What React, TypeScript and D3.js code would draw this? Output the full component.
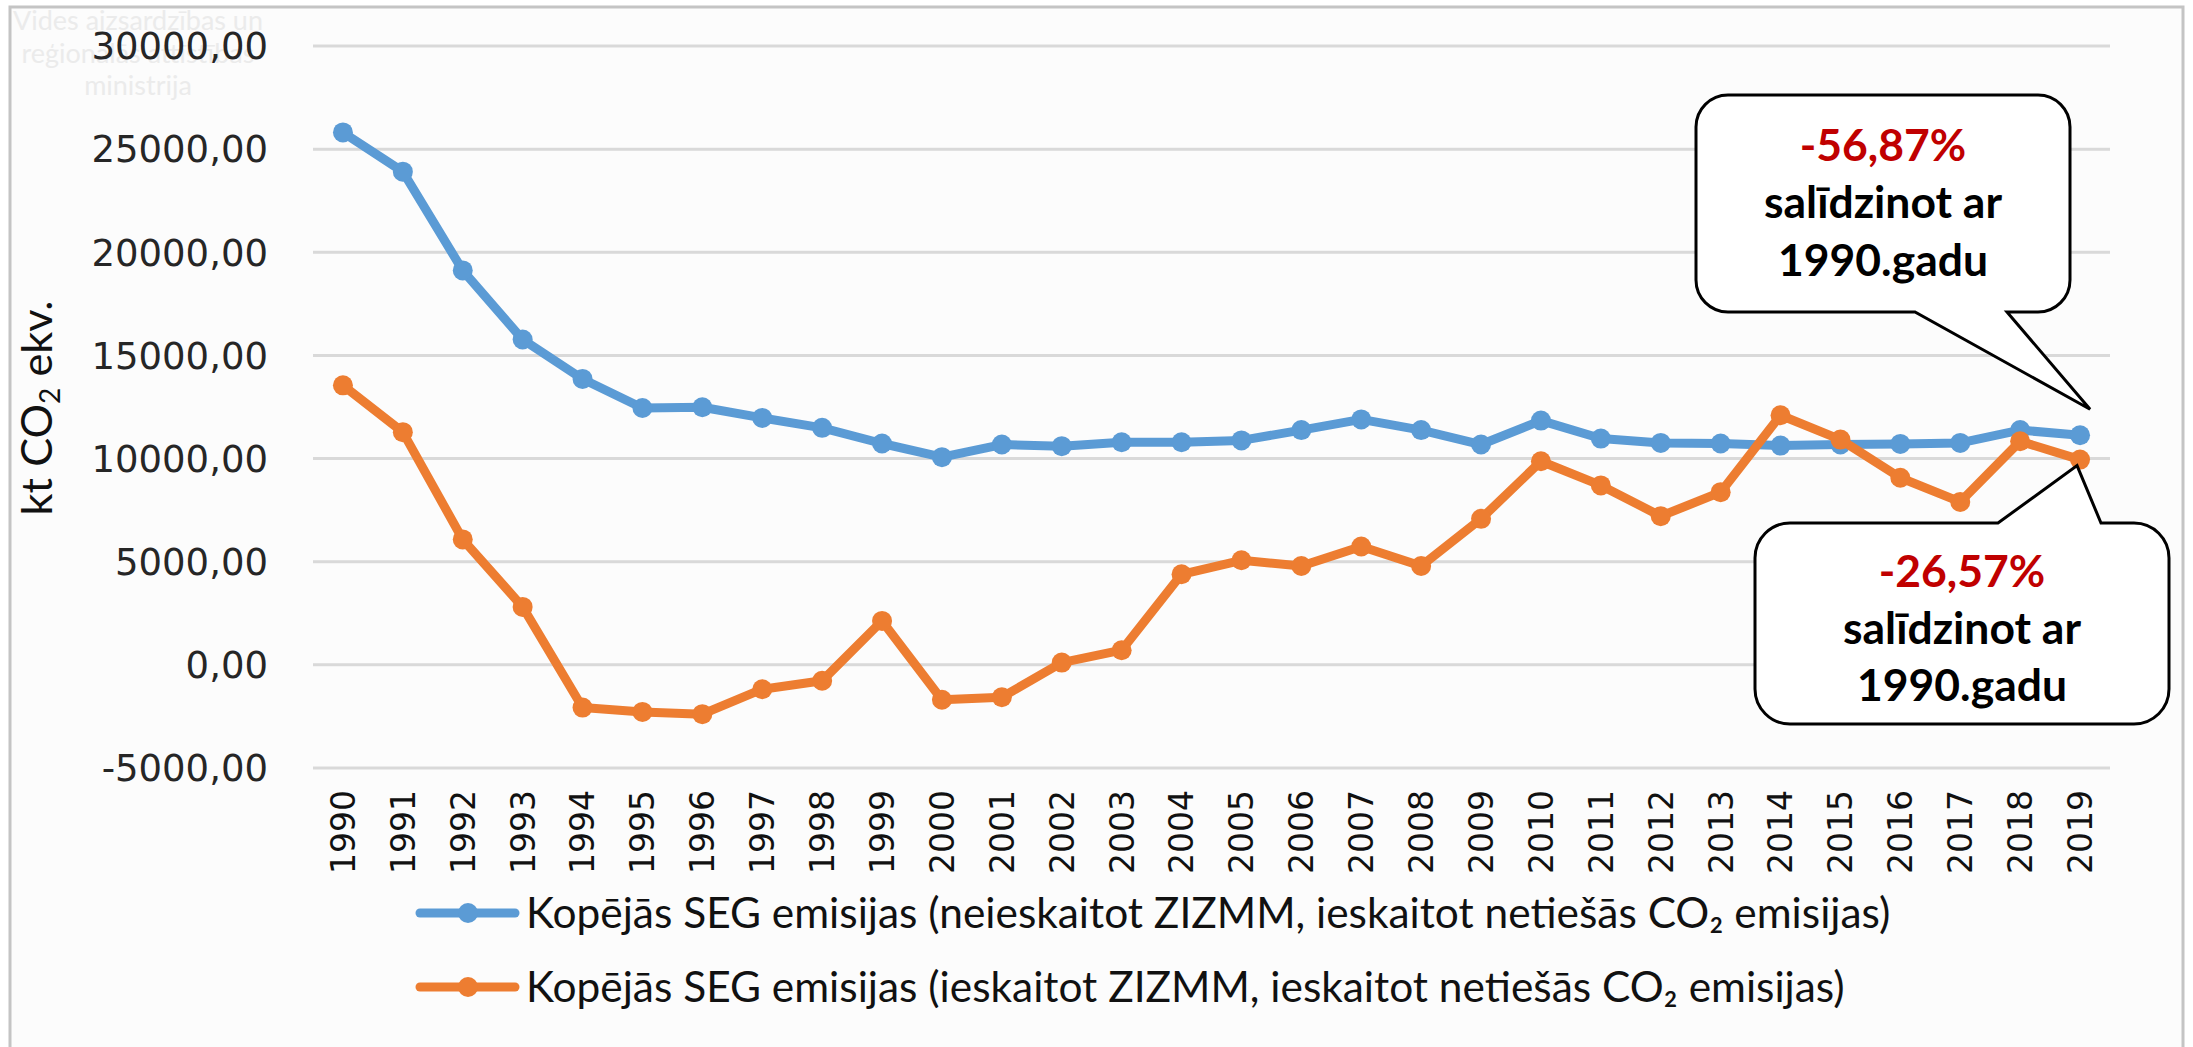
import React, { useEffect, useRef } from "react";
import * as d3 from "d3";

const years = ["1990","1991","1992","1993","1994","1995","1996","1997","1998","1999","2000","2001","2002","2003","2004","2005","2006","2007","2008","2009","2010","2011","2012","2013","2014","2015","2016","2017","2018","2019"];
const totalExclLULUCF = [25810,23910,19120,15770,13860,12450,12490,11970,11490,10730,10070,10680,10600,10790,10790,10880,11380,11900,11380,10680,11840,10970,10760,10730,10630,10680,10710,10760,11380,11130];
const totalInclLULUCF = [13550,11280,6080,2810,-2070,-2280,-2390,-1180,-770,2130,-1690,-1570,110,710,4390,5070,4790,5740,4790,7080,9870,8700,7210,8370,12100,10920,9070,7900,10840,9950];
const yTicks = [-5000,0,5000,10000,15000,20000,25000,30000];
const seriesNames = [
  "Kopējās SEG emisijas (neieskaitot ZIZMM, ieskaitot netiešās CO₂ emisijas)",
  "Kopējās SEG emisijas (ieskaitot ZIZMM, ieskaitot netiešās CO₂ emisijas)",
];
const seriesColors = ["#5b9bd5", "#ed7d31"];
const calloutPercents = ["-56,87%", "-26,57%"];
const calloutLines = ["salīdzinot ar", "1990.gadu"];
const watermarkLines = ["Vides aizsardzības un", "reģionālās attīstības", "ministrija"];

const W = 2193, H = 1047;
const M = { left: 313, right: 2110, top: 46, bottom: 768 };

function fit(sel: any, target: number) {
  const node = sel.node() as SVGTextElement;
  const w = node.getComputedTextLength();
  const fs = parseFloat(sel.attr("font-size"));
  const nfs = w > 0 ? (fs * target) / w : fs;
  sel.attr("font-size", nfs);
  return nfs;
}

function callout(x0: number, y0: number, x1: number, y1: number, r: number, tail: { side: string; a: number; b: number; tip: [number, number] }) {
  const p = d3.path();
  p.moveTo(x0 + r, y0);
  if (tail.side === "top") {
    p.lineTo(tail.a, y0);
    p.lineTo(tail.tip[0], tail.tip[1]);
    p.lineTo(tail.b, y0);
  }
  p.lineTo(x1 - r, y0);
  p.arcTo(x1, y0, x1, y0 + r, r);
  p.lineTo(x1, y1 - r);
  p.arcTo(x1, y1, x1 - r, y1, r);
  if (tail.side === "bottom") {
    p.lineTo(tail.b, y1);
    p.lineTo(tail.tip[0], tail.tip[1]);
    p.lineTo(tail.a, y1);
  }
  p.lineTo(x0 + r, y1);
  p.arcTo(x0, y1, x0, y1 - r, r);
  p.lineTo(x0, y0 + r);
  p.arcTo(x0, y0, x0 + r, y0, r);
  p.closePath();
  return p.toString();
}

export default function App() {
  const ref = useRef<SVGSVGElement>(null);
  useEffect(() => {
    const svg = d3.select(ref.current);
    svg.selectAll("*").remove();

    const x = d3.scaleBand<string>().domain(years).range([M.left, M.right]);
    const xc = (d: string) => (x(d) as number) + x.bandwidth() / 2;
    const y = d3.scaleLinear().domain([-5000, 30000]).range([M.bottom, M.top]);
    const loc = d3.formatLocale({ decimal: ",", thousands: "", grouping: [3], currency: ["", ""], minus: "-" });
    const fmt = loc.format(".2f");

    svg.append("rect").attr("width", W).attr("height", H).attr("fill", "#ffffff");
    svg.append("rect").attr("x", 10).attr("y", 7).attr("width", 2173).attr("height", 1100)
      .attr("fill", "#fcfcfc").attr("stroke", "#c4c4c4").attr("stroke-width", 3);

    // watermark
    const wm = svg.append("g").attr("font-family", "Lato, 'Open Sans', sans-serif").attr("fill", "#ebebeb").attr("text-anchor", "middle");
    const wmBase = [30, 63, 95];
    let wmFs = 28;
    watermarkLines.forEach((t, i) => {
      const tx = wm.append("text").attr("x", 138).attr("y", wmBase[i]).attr("font-size", wmFs).text(t);
      if (i === 0) wmFs = fit(tx, 250);
      else tx.attr("font-size", wmFs);
    });

    // gridlines
    svg.append("g").selectAll("line").data(yTicks).join("line")
      .attr("x1", M.left).attr("x2", M.right)
      .attr("y1", (d) => y(d)).attr("y2", (d) => y(d))
      .attr("stroke", "#d9d9d9").attr("stroke-width", 3);

    // y tick labels
    svg.append("g").selectAll("text").data(yTicks).join("text")
      .attr("x", 268).attr("y", (d) => y(d)).attr("dy", "0.36em")
      .attr("text-anchor", "end").attr("font-family", "'DejaVu Sans', Verdana, sans-serif")
      .attr("font-size", 37).attr("fill", "#262626").text((d) => fmt(d));

    // x tick labels
    svg.append("g").selectAll("text").data(years).join("text")
      .attr("transform", (d) => `translate(${xc(d)},790) rotate(-90)`)
      .attr("dy", "0.36em").attr("text-anchor", "end")
      .attr("font-family", "'DejaVu Sans', Verdana, sans-serif")
      .attr("font-size", 33).attr("fill", "#111").text((d) => d);

    // y title
    const yt = svg.append("text").attr("transform", "translate(52,408) rotate(-90)")
      .attr("text-anchor", "middle").attr("font-family", "Lato, sans-serif").attr("font-size", 40).attr("fill", "#111");
    yt.append("tspan").text("kt CO");
    yt.append("tspan").attr("font-size", "0.65em").attr("dy", "0.3em").text("2");
    yt.append("tspan").attr("dy", "-0.2em").text(" ekv.");
    fit(yt, 215);

    // series
    const seriesData = [totalExclLULUCF, totalInclLULUCF];
    const line = d3.line<number>().x((_, i) => xc(years[i])).y((d) => y(d));
    seriesData.forEach((vals, si) => {
      const g = svg.append("g");
      g.append("path").attr("d", line(vals) as string).attr("fill", "none")
        .attr("stroke", seriesColors[si]).attr("stroke-width", 9).attr("stroke-linejoin", "round");
      g.selectAll("circle").data(vals).join("circle")
        .attr("cx", (_, i) => xc(years[i])).attr("cy", (d) => y(d)).attr("r", 10)
        .attr("fill", seriesColors[si]);
    });

    // callouts
    const last = years[years.length - 1];
    const lx = xc(last);
    const boxes = [
      { x0: 1696, y0: 95, x1: 2070, y1: 312, r: 32, tail: { side: "bottom", a: 1915, b: 2007, tip: [lx + 10, y(totalExclLULUCF[29]) - 26] as [number, number] }, base: [161, 218, 276] },
      { x0: 1755, y0: 523, x1: 2169, y1: 724, r: 35, tail: { side: "top", a: 1998, b: 2101, tip: [lx - 3, y(totalInclLULUCF[29]) + 6] as [number, number] }, base: [587, 644, 701] },
    ];
    boxes.forEach((b, i) => {
      svg.append("path").attr("d", callout(b.x0, b.y0, b.x1, b.y1, b.r, b.tail))
        .attr("fill", "#ffffff").attr("stroke", "#000").attr("stroke-width", 3).attr("stroke-linejoin", "miter");
      const cx = (b.x0 + b.x1) / 2;
      const g = svg.append("g").attr("font-family", "Lato, sans-serif").attr("font-weight", "bold").attr("text-anchor", "middle");
      const t1 = g.append("text").attr("x", cx).attr("y", b.base[1]).attr("font-size", 40).attr("fill", "#000").text(calloutLines[0]);
      const fs = fit(t1, 238);
      g.append("text").attr("x", cx).attr("y", b.base[0]).attr("font-size", fs).attr("fill", "#c00000").text(calloutPercents[i]);
      g.append("text").attr("x", cx).attr("y", b.base[2]).attr("font-size", fs).attr("fill", "#000").text(calloutLines[1]);
    });

    // legend
    const legY = [913, 987];
    let legFs = 36;
    seriesNames.forEach((name, i) => {
      const g = svg.append("g");
      g.append("line").attr("x1", 420).attr("x2", 515).attr("y1", legY[i]).attr("y2", legY[i])
        .attr("stroke", seriesColors[i]).attr("stroke-width", 9).attr("stroke-linecap", "round");
      g.append("circle").attr("cx", 468).attr("cy", legY[i]).attr("r", 10).attr("fill", seriesColors[i]);
      const t = g.append("text").attr("x", 526).attr("y", legY[i]).attr("dy", "0.35em")
        .attr("font-family", "Lato, sans-serif").attr("font-size", legFs).attr("fill", "#111").text(name);
      if (i === 0) legFs = fit(t, 1365);
      else t.attr("font-size", legFs);
    });
  }, []);
  return <svg ref={ref} width={W} height={H} style={{ position: "absolute", left: 0, top: 0, display: "block" }} />;
}
